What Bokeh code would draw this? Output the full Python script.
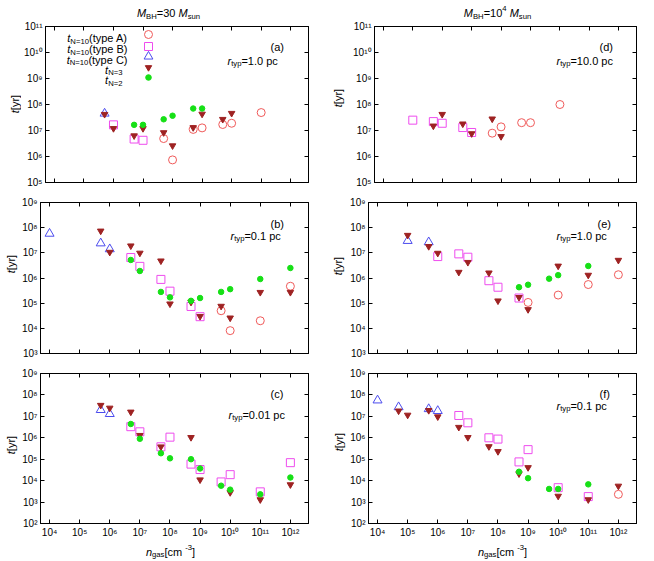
import math
from bokeh.plotting import figure
from bokeh.models import (FixedTicker, LogAxis, CustomJSTickFormatter, Label,
                          Legend, LegendItem, Range1d)
from bokeh.layouts import column, row
from bokeh.embed import file_html
from bokeh.resources import INLINE

# ---------------- data (n_gas [cm^-3], t [yr]) ----------------
# panel (a): M_BH = 30 Msun, r_typ = 1.0 pc
a_A_n = [5e7, 1e8, 5e8, 1e9, 5e9, 1e10, 1e11]
a_A_t = [4.9e6, 7.4e5, 1.1e7, 1.26e7, 1.7e7, 1.9e7, 4.9e7]
a_B_n = [1e6, 5e6, 1e7]
a_B_t = [1.65e7, 4.7e6, 4.2e6]
a_C_n = [5e5]
a_C_t = [4.5e7]
a_N3_n = [5e5, 1e6, 5e6, 1e7, 5e7, 1e8, 5e8, 1e9, 5e9, 1e10]
a_N3_t = [4.2e7, 1.2e7, 6.3e6, 1.2e7, 8.3e6, 2.6e6, 1.3e7, 4.3e7, 2.7e7, 4.6e7]
a_N2_n = [5e6, 1e7, 5e7, 1e8, 5e8, 1e9]
a_N2_t = [1.65e7, 1.65e7, 2.7e7, 3.7e7, 7e7, 7e7]

# panel (b): M_BH = 30 Msun, r_typ = 0.1 pc
b_A_n = [5e9, 1e10, 1e11, 1e12]
b_A_t = [5e4, 8.1e3, 2e4, 4.7e5]
b_B_n = [5e6, 1e7, 5e7, 1e8, 5e8, 1e9]
b_B_t = [6.5e6, 2.9e6, 8.8e5, 3e5, 7.4e4, 2.9e4]
b_C_n = [1e4, 5e5, 1e6]
b_C_t = [5.8e7, 2.4e7, 1.4e7]
b_N3_n = [5e5, 1e6, 5e6, 1e7, 5e7, 1e8, 5e8, 1e9, 5e9, 1e10, 1e11, 1e12]
b_N3_t = [7.4e7, 1.06e7, 1.9e7, 9.8e6, 4.8e6, 9.4e4, 1.1e5, 3e4, 7.6e4, 2.6e4, 2.7e5, 2.7e5]
b_N2_n = [5e6, 1e7, 5e7, 1e8, 5e8, 1e9, 5e9, 1e10, 1e11, 1e12]
b_N2_t = [5.2e6, 1.9e6, 2.8e5, 1.7e5, 1.24e5, 1.6e5, 2.8e5, 3.6e5, 9.1e5, 2.5e6]

# panel (c): M_BH = 30 Msun, r_typ = 0.01 pc
c_A_n = []
c_A_t = []
c_B_n = [5e6, 1e7, 5e7, 1e8, 5e8, 1e9, 5e9, 1e10, 1e11, 1e12]
c_B_t = [3.3e6, 1.9e6, 3.8e5, 1.07e6, 5.9e4, 3.3e4, 8.7e3, 1.9e4, 3e3, 6.9e4]
c_C_n = [5e5, 1e6]
c_C_t = [2e7, 1.3e7]
c_N3_n = [5e5, 1e6, 5e6, 1e7, 5e7, 5e8, 1e9, 1e10, 1e11, 1e12]
c_N3_t = [3.3e7, 2.45e7, 1.6e7, 1.3e6, 3.8e5, 1.04e6, 1.1e4, 2.8e3, 1.3e3, 6.5e3]
c_N2_n = [5e6, 1e7, 5e7, 1e8, 5e8, 1e9, 5e9, 1e10, 1e11, 1e12]
c_N2_t = [4.4e6, 9e5, 1.9e5, 1.1e5, 1e5, 3.7e4, 5.8e3, 3.8e3, 2.3e3, 1.4e4]

# panel (d): M_BH = 1e4 Msun, r_typ = 10.0 pc
d_A_n = [5e7, 1e8, 5e8, 1e9, 1e10]
d_A_t = [7.9e6, 1.38e7, 2e7, 2e7, 1e8]
d_B_n = [1e5, 5e5, 1e6, 5e6, 1e7]
d_B_t = [2.5e7, 2.2e7, 1.9e7, 1.3e7, 8.4e6]
d_C_n = []
d_C_t = []
d_N3_n = [5e5, 1e6, 5e6, 1e7, 5e7, 1e8]
d_N3_t = [1.5e7, 4.2e7, 1.8e7, 7.6e6, 2.8e7, 5.9e6]
d_N2_n = []
d_N2_t = []

# panel (e): M_BH = 1e4 Msun, r_typ = 1.0 pc
e_A_n = [1e9, 1e10, 1e11, 1e12]
e_A_t = [1.07e5, 2.1e5, 5.5e5, 1.35e6]
e_B_n = [1e6, 5e6, 1e7, 5e7, 1e8, 5e8]
e_B_t = [7.1e6, 9.1e6, 6.7e6, 7.8e5, 4.3e5, 1.6e5]
e_C_n = [1e5, 5e5]
e_C_t = [3e7, 2.65e7]
e_N3_n = [1e5, 5e5, 1e6, 5e6, 1e7, 5e7, 1e8, 5e8, 1e9, 1e10, 1e11, 1e12]
e_N3_t = [5e7, 1.8e7, 9.7e6, 1.7e6, 4.2e6, 1.6e6, 1.24e5, 1.7e5, 5.6e4, 3e6, 1.3e6, 5.1e6]
e_N2_n = [5e8, 1e9, 5e9, 1e10, 1e11]
e_N2_t = [4.3e5, 5.4e5, 9.4e5, 1.3e6, 3e6]

# panel (f): M_BH = 1e4 Msun, r_typ = 0.1 pc
f_A_n = [1e12]
f_A_t = [2.3e3]
f_B_n = [5e6, 1e7, 5e7, 1e8, 5e8, 1e9, 1e10, 1e11]
f_B_t = [1.1e7, 5e6, 1e6, 8.7e5, 7.5e4, 2.8e5, 4.7e3, 1.8e3]
f_C_n = [1e4, 5e4, 5e5, 1e6]
f_C_t = [5.6e7, 2.7e7, 2.2e7, 1.8e7]
f_N3_n = [5e4, 1e5, 5e5, 1e6, 5e6, 1e7, 5e7, 1e8, 5e8, 1e9, 1e10, 1e11, 1e12]
f_N3_t = [1.8e7, 1.15e7, 1.9e7, 9.6e6, 3.1e6, 1.04e6, 3.9e5, 2.3e5, 2.1e4, 4.1e4, 1.9e3, 1.3e3, 5.6e3]
f_N2_n = [5e8, 1e9, 5e9, 1e10, 1e11]
f_N2_t = [2.6e4, 1.3e4, 4.1e3, 4.1e3, 6.7e3]

X_LO, X_HI = 5e3, 4e12
X_TICK_EXP = list(range(4, 13))

# ---------------- styling ----------------
FONT = "Liberation Sans"
COL_A = "#f05a5a"
COL_B = "#ee4cee"
COL_C = "#4c4cee"
COL_N3 = "#9e2222"
COL_N2 = "#16e016"

AW = {' ': 278, '(': 333, ')': 333, '-': 333, '.': 278, '=': 584, '[': 278, ']': 278,
      'A': 667, 'B': 667, 'C': 722, 'H': 722, 'M': 833, 'N': 722,
      'a': 556, 'c': 500, 'e': 556, 'g': 556, 'm': 833, 'n': 556, 'p': 556,
      'r': 333, 's': 500, 't': 278, 'u': 556, 'y': 500}


def tw(s, fs):
    return sum(AW.get(ch, 556) for ch in s) * fs / 1000.0


def rich(p, x, y, pieces, fs=11, align="left", vertical=False, baseline="alphabetic"):
    sizes = [fs * 0.7 if st in ("sub", "sup") else fs for _, st in pieces]
    widths = [tw(t, s) for (t, _), s in zip(pieces, sizes)]
    total = sum(widths)
    pos = {"left": 0.0, "center": -total / 2.0, "right": -total}[align]
    for (t, st), s, w in zip(pieces, sizes, widths):
        d = -0.28 * fs if st == "sub" else (0.38 * fs if st == "sup" else 0.0)
        style = "italic" if st == "i" else "normal"
        if vertical:
            lx, ly, ang = x - d, y + pos, math.pi / 2
        else:
            lx, ly, ang = x + pos, y + d, 0.0
        p.add_layout(Label(x=lx, y=ly, x_units="screen", y_units="screen", text=t,
                           angle=ang, text_font=FONT, text_font_size=f"{s:.1f}px",
                           text_font_style=style, text_color="black",
                           text_align="left", text_baseline=baseline))
        pos += w


sup_fmt = CustomJSTickFormatter(code="""
const s = {'0':'\u2070','1':'\u00b9','2':'\u00b2','3':'\u00b3','4':'\u2074','5':'\u2075',
           '6':'\u2076','7':'\u2077','8':'\u2078','9':'\u2079','-':'\u207b'};
const e = Math.round(Math.log10(tick));
return '10' + String(e).split('').map(c => s[c]).join('');
""")
blank_fmt = CustomJSTickFormatter(code="return '';")


def style_axis(ax, labels):
    ax.major_tick_in = 4
    ax.major_tick_out = 0
    ax.minor_tick_in = 2
    ax.minor_tick_out = 0
    ax.major_tick_line_color = "black"
    ax.minor_tick_line_color = "black"
    ax.axis_line_color = "black"
    ax.major_label_text_font = FONT
    ax.major_label_text_color = "black"
    if labels:
        ax.formatter = sup_fmt
        ax.major_label_standoff = 3
        ax.major_label_text_font_size = "10px"
    else:
        ax.formatter = blank_fmt
        ax.major_label_standoff = 0
        ax.major_label_text_font_size = "0px"


def make_panel(W, H, bl, br, bt, bb, ylo_e, yhi_e, xlabels, data):
    p = figure(width=W, height=H, x_axis_type="log", y_axis_type="log", title=None,
               x_range=Range1d(X_LO, X_HI), y_range=Range1d(10.0 ** ylo_e, 10.0 ** yhi_e),
               output_backend="svg", toolbar_location=None,
               min_border_left=bl, min_border_right=br, min_border_top=bt, min_border_bottom=bb)
    p.background_fill_color = "white"
    p.border_fill_color = "white"
    p.outline_line_color = "black"
    p.outline_line_width = 1
    p.xgrid.grid_line_color = None
    p.ygrid.grid_line_color = None
    xt = FixedTicker(ticks=[10.0 ** k for k in X_TICK_EXP], minor_ticks=[])
    yt = FixedTicker(ticks=[10.0 ** k for k in range(ylo_e, yhi_e + 1)], minor_ticks=[])
    p.xaxis[0].ticker = xt
    p.yaxis[0].ticker = yt
    style_axis(p.xaxis[0], xlabels)
    style_axis(p.yaxis[0], True)
    top = LogAxis(ticker=xt)
    style_axis(top, False)
    p.add_layout(top, "above")
    right = LogAxis(ticker=yt)
    style_axis(right, False)
    p.add_layout(right, "right")

    (nA, tA, nB, tB, nC, tC, n3, t3, n2, t2) = data
    rA = p.scatter(nA, tA, marker="circle", size=8, fill_color=None, line_color=COL_A, line_width=1)
    rB = p.scatter(nB, tB, marker="square", size=8, fill_color=None, line_color=COL_B, line_width=1)
    rC = p.scatter(nC, tC, marker="triangle", size=9, fill_color=None, line_color=COL_C, line_width=1)
    r3 = p.scatter(n3, t3, marker="inverted_triangle", size=6.5, fill_color=COL_N3, line_color=COL_N3)
    r2 = p.scatter(n2, t2, marker="circle", size=5.5, fill_color=COL_N2, line_color=COL_N2)
    return p, (rA, rB, rC, r3, r2)


def strip(W, H):
    s = figure(width=W, height=H, x_range=Range1d(0, 1), y_range=Range1d(0, 1), title=None,
               x_axis_location=None, y_axis_location=None, toolbar_location=None,
               output_backend="svg", min_border=0)
    s.outline_line_color = None
    s.xgrid.grid_line_color = None
    s.ygrid.grid_line_color = None
    s.background_fill_color = "white"
    s.border_fill_color = "white"
    return s


def panel_text(p, letter, rtyp, lx, lyl, rx, ry):
    rich(p, lx, lyl, [("(" + letter + ")", "n")])
    rich(p, rx, ry, [("r", "i"), ("typ", "sub"), ("=" + rtyp + " pc", "n")])


def ylabel(s, xc, yc):
    rich(s, xc, yc, [("t", "i"), (" [yr]", "n")], align="center", vertical=True,
         baseline="middle")


def xlabel(s, cx, by):
    rich(s, cx, by, [("n", "i"), ("gas", "sub"), (" [cm", "n"), ("-3", "sup"), ("]", "n")],
         align="center")


def key(p, r, cx, cy, g):
    lg = Legend(items=[LegendItem(label=" ", renderers=[r])],
                location=(cx - g / 2.0, cy - g / 2.0), padding=0, margin=0, spacing=0,
                glyph_width=g, glyph_height=g, label_standoff=0, label_width=0, label_height=0,
                label_text_font_size="1px", border_line_color=None,
                background_fill_alpha=0)
    p.add_layout(lg)


# ---------------- panels ----------------
# left column: y-label strip + panel; right column likewise
pa, ra = make_panel(309, 172, 22, 22, 6, 10, 5, 11, False,
                    (a_A_n, a_A_t, a_B_n, a_B_t, a_C_n, a_C_t, a_N3_n, a_N3_t, a_N2_n, a_N2_t))
pb, _ = make_panel(311, 171, 19, 22, 10, 10, 3, 9, False,
                   (b_A_n, b_A_t, b_B_n, b_B_t, b_C_n, b_C_t, b_N3_n, b_N3_t, b_N2_n, b_N2_t))
pc, _ = make_panel(311, 177, 19, 22, 10, 16, 2, 9, True,
                   (c_A_n, c_A_t, c_B_n, c_B_t, c_C_n, c_C_t, c_N3_n, c_N3_t, c_N2_n, c_N2_t))
pd, _ = make_panel(296, 172, 22, 10, 6, 10, 5, 11, False,
                   (d_A_n, d_A_t, d_B_n, d_B_t, d_C_n, d_C_t, d_N3_n, d_N3_t, d_N2_n, d_N2_t))
pe, _ = make_panel(299, 171, 19, 10, 10, 10, 3, 9, False,
                   (e_A_n, e_A_t, e_B_n, e_B_t, e_C_n, e_C_t, e_N3_n, e_N3_t, e_N2_n, e_N2_t))
pf, _ = make_panel(299, 177, 19, 10, 10, 16, 2, 9, True,
                   (f_A_n, f_A_t, f_B_n, f_B_t, f_C_n, f_C_t, f_N3_n, f_N3_t, f_N2_n, f_N2_t))

# text strips (titles, axis labels)
tl, tr = strip(330, 20), strip(316, 20)
rich(tl, 168, 7.5, [("M", "i"), ("BH", "sub"), ("=30 ", "n"), ("M", "i"), ("sun", "sub")], align="center")
rich(tr, 167, 7.5, [("M", "i"), ("BH", "sub"), ("=10", "n"), ("4", "sup"), (" ", "n"),
                    ("M", "i"), ("sun", "sub")], align="center")

yl_a, yl_b, yl_c = strip(21, 172), strip(19, 171), strip(19, 177)
yl_d, yl_e, yl_f = strip(20, 172), strip(17, 171), strip(17, 177)
ylabel(yl_a, 14.5, 80)
ylabel(yl_b, 10, 91)
ylabel(yl_c, 10.5, 80)
ylabel(yl_d, 7.5, 86)
ylabel(yl_e, 7.5, 89)
ylabel(yl_f, 8, 83)

xl_l, xl_r = strip(330, 20), strip(316, 20)
xlabel(xl_l, 170, 9)
xlabel(xl_r, 172, 9)

# panel annotations
panel_text(pa, "a", "1.0", 225, 136, 182, 122)
panel_text(pb, "b", "0.1", 230, 130, 190, 118)
panel_text(pc, "c", "0.01", 230, 130, 188, 109)
panel_text(pd, "d", "10.0", 225, 136, 182, 122)
panel_text(pe, "e", "1.0", 229, 130, 188, 118)
panel_text(pf, "f", "0.1", 231, 130, 188, 118)

# legend (panel a): text right-aligned, key symbol to the right
leg_rows = [
    ([("t", "i"), ("N=10", "sub"), ("(type A)", "n")], 82, 144.5, 148.0, 20),
    ([("t", "i"), ("N=10", "sub"), ("(type B)", "n")], 82, 133.5, 136.5, 20),
    ([("t", "i"), ("N=10", "sub"), ("(type C)", "n")], 82, 123.0, 126.3, 22),
    ([("t", "i"), ("N=3", "sub")], 77, 113.0, 115.3, 16),
    ([("t", "i"), ("N=2", "sub")], 77, 102.5, 104.7, 14),
]
for (pieces, tx, ty, my, g), r in zip(leg_rows, ra):
    rich(pa, tx, ty, pieces, align="right")
    key(pa, r, 103, my, g)

left_col = column(tl, row(yl_a, pa), row(yl_b, pb), row(yl_c, pc), xl_l)
right_col = column(tr, row(yl_d, pd), row(yl_e, pe), row(yl_f, pf), xl_r)
layout = row(left_col, right_col)

with open("out.html", "w", encoding="utf-8") as fh:
    fh.write(file_html(layout, INLINE, title="t vs n_gas"))
